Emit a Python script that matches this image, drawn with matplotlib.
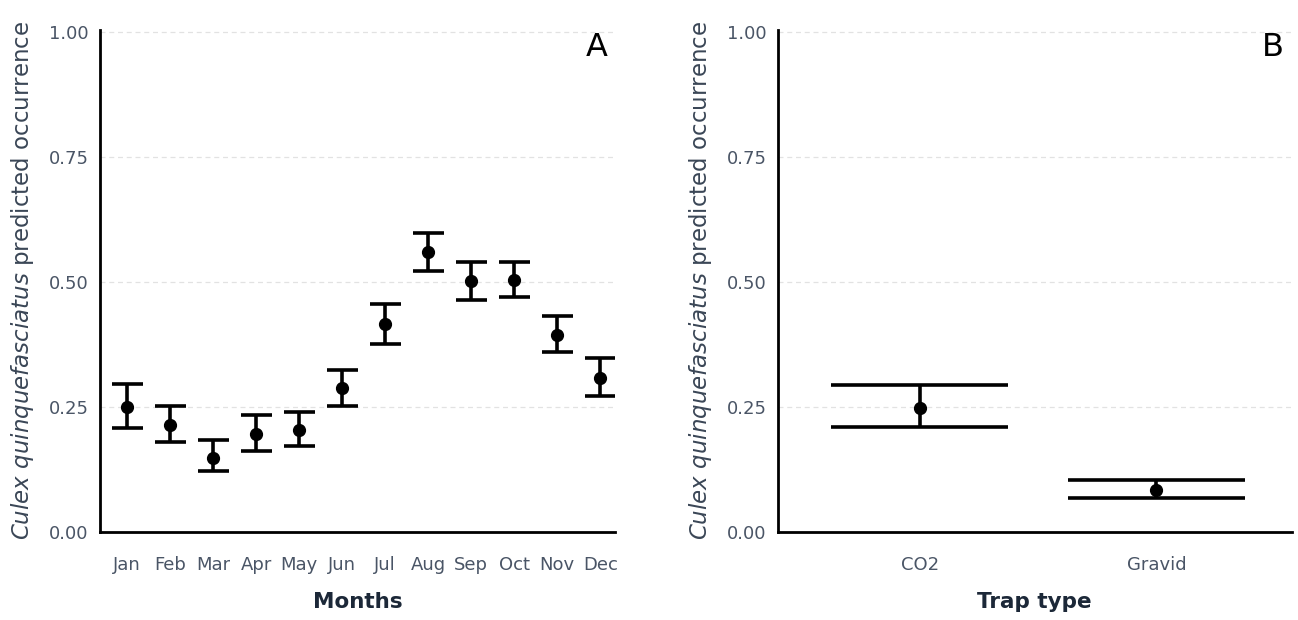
import matplotlib.pyplot as plt
import numpy as np

months = ["Jan", "Feb", "Mar", "Apr", "May", "Jun", "Jul", "Aug", "Sep", "Oct", "Nov", "Dec"]
month_fit = [0.250, 0.214, 0.148, 0.197, 0.204, 0.288, 0.417, 0.560, 0.502, 0.504, 0.395, 0.308]
month_lower = [0.209, 0.180, 0.121, 0.163, 0.173, 0.253, 0.376, 0.522, 0.464, 0.470, 0.360, 0.272]
month_upper = [0.296, 0.252, 0.184, 0.234, 0.240, 0.324, 0.456, 0.599, 0.540, 0.540, 0.433, 0.348]

traps = ["CO2", "Gravid"]
trap_fit = [0.248, 0.084]
trap_lower = [0.211, 0.067]
trap_upper = [0.294, 0.103]

yticks = [0.00, 0.25, 0.50, 0.75, 1.00]

TICK_COL = "#4a5566"
YLAB_COL = "#3a4656"
XLAB_COL = "#1c2838"

plt.rcParams['font.family'] = ['DejaVu Sans']


def draw_panel(ax, labels, fit, lower, upper, cap_half, xlim, xlabel, letter):
    x = np.arange(len(labels))
    for y in yticks[1:]:
        ax.axhline(y, color="#e2e2e2", linestyle=(0, (4, 3)), linewidth=0.9, zorder=0)
    ax.vlines(x, lower, upper, color="black", linewidth=2.6, zorder=2)
    ax.hlines(lower, x - cap_half, x + cap_half, color="black", linewidth=2.6, zorder=2)
    ax.hlines(upper, x - cap_half, x + cap_half, color="black", linewidth=2.6, zorder=2)
    ax.plot(x, fit, "o", color="black", markersize=8.5, zorder=3)

    ax.set_xlim(*xlim)
    ax.set_ylim(0, 1.005)
    ax.set_xticks(x)
    ax.set_xticklabels(labels)
    ax.set_yticks(yticks)
    ax.set_yticklabels([f"{v:.2f}" for v in yticks])
    ax.tick_params(axis="both", length=0, colors=TICK_COL, labelsize=13)
    ax.tick_params(axis="x", pad=17)
    ax.tick_params(axis="y", pad=8)

    for side in ["top", "right"]:
        ax.spines[side].set_visible(False)
    for side in ["left", "bottom"]:
        ax.spines[side].set_linewidth(2.0)
        ax.spines[side].set_color("black")

    ax.set_xlabel(xlabel, fontsize=15.5, fontweight="bold", color=XLAB_COL, labelpad=13)
    ax.set_ylabel(r"$\it{Culex\ quinquefasciatus}$ predicted occurrence",
                  fontsize=16.5, color=YLAB_COL, labelpad=9)
    ax.text(0.985, 0.995, letter, transform=ax.transAxes, fontsize=23,
            ha="right", va="top", color="black")


fig = plt.figure(figsize=(12.98, 6.2), dpi=100)
axA = fig.add_axes([0.077, 0.142, 0.397, 0.810])
axB = fig.add_axes([0.599, 0.142, 0.396, 0.810])

draw_panel(axA, months, month_fit, month_lower, month_upper, 0.36, (-0.63, 11.35), "Months", "A")
draw_panel(axB, traps, trap_fit, trap_lower, trap_upper, 0.375, (-0.6, 1.57), "Trap type", "B")

fig.savefig("out.png", dpi=100)
